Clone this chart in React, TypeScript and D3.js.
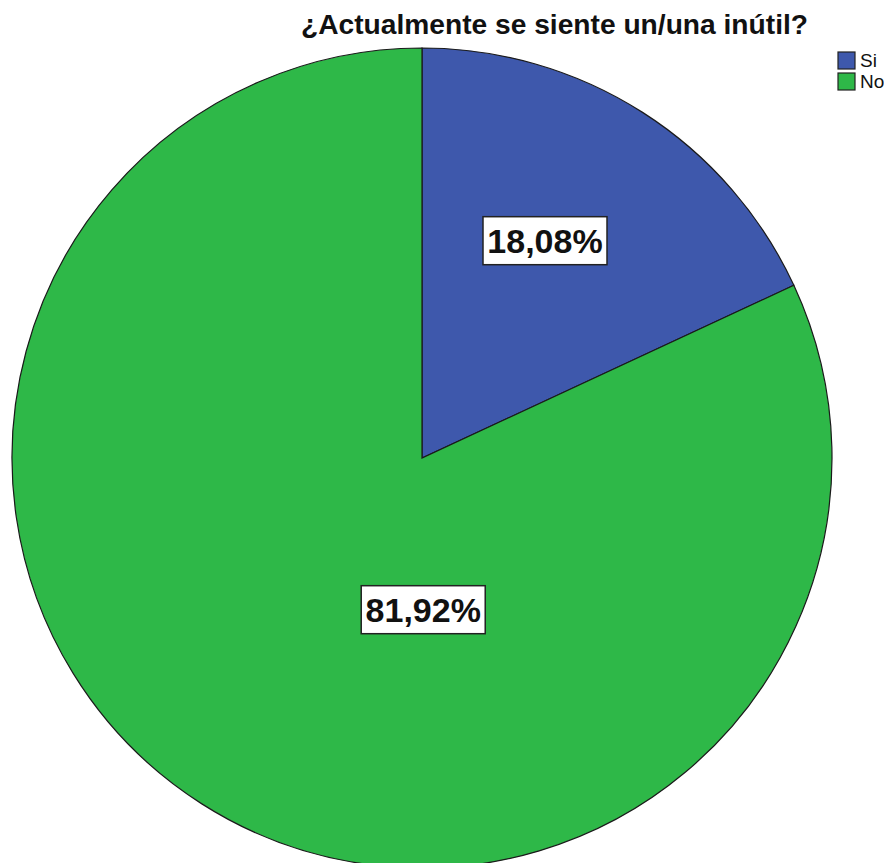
import React from "react";
import * as d3 from "d3";

const categories = ["Si", "No"];
const values = [18.08, 81.92];
const labels = ["18,08%", "81,92%"];
const colors = ["#3E58AC", "#2EB848"];
const title = "¿Actualmente se siente un/una inútil?";

const W = 884;
const H = 863;
const cx = 422;
const cy = 458;
const R = 410;
// label anchor positions as fractions (dx/R, dy/R)
const labelPos: [number, number][] = [
  [0.3, -0.53],
  [0.003, 0.37],
];

export default function App() {
  const pie = d3.pie<number>().sort(null).value((d) => d)(values);
  const arc = d3.arc<d3.PieArcDatum<number>>().innerRadius(0).outerRadius(R);
  return (
    <svg
      width={W}
      height={H}
      style={{ position: "absolute", left: 0, top: 0, background: "#fff" }}
      fontFamily="'Liberation Sans', Arial, sans-serif"
    >
      <g transform={`translate(${cx},${cy})`}>
        {pie.map((p, i) => (
          <path key={i} d={arc(p) || ""} fill={colors[i]} stroke="#1a1a1a" strokeWidth={1.2} />
        ))}
      </g>
      <text
        x={301}
        y={34}
        fontSize={27}
        fontWeight="bold"
        fill="#111"
        textLength={507}
        lengthAdjust="spacingAndGlyphs"
      >
        {title}
      </text>
      {labels.map((t, i) => {
        const x = cx + labelPos[i][0] * R;
        const y = cy + labelPos[i][1] * R;
        return (
          <g key={i} transform={`translate(${x},${y})`}>
            <rect x={-62} y={-24} width={124} height={48} fill="#fff" stroke="#222" strokeWidth={1.5} />
            <text x={0} y={12} textAnchor="middle" fontSize={34} fontWeight="bold" fill="#111">
              {t}
            </text>
          </g>
        );
      })}
      {categories.map((c, i) => (
        <g key={c} transform={`translate(838,${52 + i * 21})`}>
          <rect x={0} y={0} width={17} height={17} fill={colors[i]} stroke="#222" strokeWidth={1.2} />
          <text x={22} y={15} fontSize={19} fill="#111">
            {c}
          </text>
        </g>
      ))}
    </svg>
  );
}
